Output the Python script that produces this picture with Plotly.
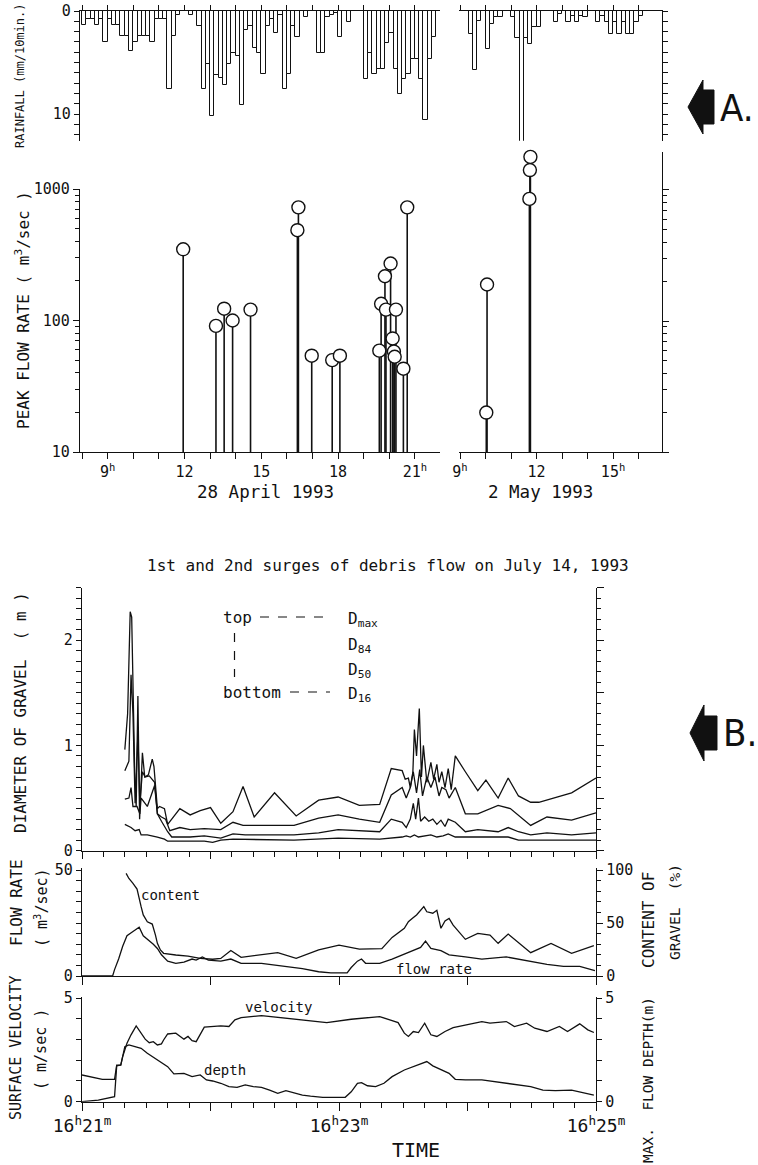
import plotly.graph_objects as go

W, H = 758, 1165
def px(x): return x / W
def py(y): return 1 - y / H

FONT = "DejaVu Sans Mono, Liberation Mono, monospace"
BIG = "Liberation Sans Narrow, DejaVu Sans Condensed, Liberation Sans, sans-serif"
INK = "#111111"

# ---------------- A: rainfall (mm / 10 min) ----------------
rain_left_start = 8.0     # 28 April 1993, first bar starts 8:00
rain_left = [1.4, 0.8, 0.8, 1.4, 0.8, 3.0, 0.8, 1.4, 1.4, 2.4,
             2.4, 3.9, 3.0, 2.4, 2.4, 2.4, 3.0, 0.8, 0.8, 0.8,
             7.6, 2.4, 0.4, 0, 0, 0.4, 0, 1.5, 7.6, 5.1,
             10.2, 6.2, 6.5, 7.2, 5.1, 4.1, 4.4, 9.1, 1.8, 1.5,
             3.6, 4.1, 6.1, 1.5, 0.8, 2.1, 0.4, 7.6, 6.1, 1.5,
             2.5, 0, 0.6, 0, 0, 4.1, 4.1, 0.6, 0.4, 0.2,
             2.5, 0, 1.1, 0, 0, 0, 6.6, 4.1, 6.1, 5.6,
             5.6, 3.1, 2.1, 5.6, 8.1, 6.6, 6.1, 4.7, 4.7, 6.6,
             10.6, 4.7, 2.5]
rain_right_start = 9.0    # 2 May 1993
rain_right = [0, 0, 2.2, 5.7, 1.0, 0, 3.7, 1.3, 0.6, 0.6,
              0, 0, 0.6, 2.6, 12.8, 2.6, 3.2, 1.6, 1.6, 0,
              0, 0, 1.1, 0.3, 0, 1.1, 0.5, 1.1, 0.5, 0.6,
              0, 0, 1.1, 0.5, 1.1, 2.2, 1.1, 2.2, 1.1, 2.2,
              2.2, 1.1, 0.5]
bar_hours = 1 / 6

# ---------------- A: peak flow rate (m3/s) ----------------
peak_left_t = [11.95, 13.23, 13.55, 13.88, 14.58, 16.41, 16.45, 16.97, 17.77, 18.07,
               19.61, 19.68, 19.83, 19.87, 20.05, 20.13, 20.18, 20.21, 20.26, 20.55, 20.70]
peak_left_q = [348, 91, 123, 100, 121, 486, 725, 54, 50, 54,
               59, 134, 217, 121, 271, 73, 58, 53, 121, 43, 725]
peak_right_t = [10.03, 10.06, 11.72, 11.74, 11.76]
peak_right_q = [20, 190, 855, 1420, 1790]

left_hour_ticks = [9, 12, 15, 18, 21]
left_hour_text = ["9<sup>h</sup>", "12", "15", "18", "21<sup>h</sup>"]
right_hour_ticks = [9, 12, 15]
right_hour_text = ["9<sup>h</sup>", "12", "15<sup>h</sup>"]

# ---------------- B: debris flow July 14, 1993 (seconds after 16h21m) ----------------
dmax_t = [20.0, 21.3, 22.5, 23.2, 24.6, 25.3, 26.1, 26.9, 28.2, 29.3, 31.0, 32.8, 33.6, 35.2, 36.2,
          38.5, 40.0, 45.7, 50.5, 55.2, 60.0, 64.8, 70.5, 75.2, 80.4, 89.9, 100.0, 110.5, 119.6,
          129.5, 139.0, 144.4, 149.5, 150.9, 152.4, 153.3, 154.5, 155.2, 156.2, 157.5, 158.5, 159.4,
          161.0, 162.9, 164.2, 165.7, 166.7, 168.0, 169.5, 171.0, 172.4, 174.3, 179.0, 184.8, 188.6,
          194.3, 199.0, 203.8, 209.5, 213.3, 228.6, 240.0]
dmax_v = [0.96, 1.3, 2.27, 2.22, 0.75, 0.42, 1.47, 0.3, 0.93, 0.7, 0.72, 0.87, 0.8, 0.4, 0.42,
          0.4, 0.25, 0.4, 0.34, 0.38, 0.41, 0.26, 0.37, 0.61, 0.32, 0.55, 0.33, 0.48, 0.51,
          0.43, 0.44, 0.78, 0.76, 0.68, 0.69, 0.6, 0.75, 1.15, 0.9, 1.35, 0.7, 1.0,
          0.65, 0.84, 0.68, 0.82, 0.65, 0.75, 0.6, 0.78, 0.58, 0.9, 0.75, 0.57, 0.67,
          0.5, 0.69, 0.52, 0.46, 0.46, 0.55, 0.69]
d84_t = [20.0, 21.9, 22.9, 23.8, 24.8, 26.1, 27.0, 28.2, 29.5, 31.4, 33.9, 35.2, 37.1, 39.0, 41.0,
         45.7, 50.5, 57.1, 64.8, 70.5, 75.2, 81.9, 99.0, 110.5, 119.6, 129.5, 139.0, 144.4, 149.5,
         151.4, 153.3, 154.7, 156.2, 157.7, 159.0, 161.0, 162.9, 164.8, 166.7, 168.0, 169.9, 171.4,
         174.3, 179.0, 184.8, 194.3, 200.0, 209.5, 217.1, 228.6, 240.0]
d84_v = [0.76, 0.85, 1.67, 1.3, 0.45, 1.1, 0.45, 0.75, 0.7, 0.71, 0.65, 0.35, 0.32, 0.3, 0.19,
         0.22, 0.2, 0.21, 0.2, 0.27, 0.24, 0.24, 0.24, 0.31, 0.34, 0.3, 0.27, 0.53, 0.6,
         0.5, 0.6, 0.75, 0.55, 0.77, 0.52, 0.7, 0.6, 0.7, 0.52, 0.6, 0.58, 0.5,
         0.6, 0.35, 0.35, 0.43, 0.4, 0.24, 0.32, 0.29, 0.36]
d50_t = [20.0, 21.9, 22.9, 23.8, 25.7, 27.0, 27.6, 30.5, 33.9, 35.2, 37.1, 40.0, 41.9, 50.5, 57.1,
         64.8, 70.5, 76.2, 99.0, 110.5, 119.6, 129.5, 139.0, 144.4, 149.5, 151.4, 153.3, 154.7,
         155.8, 157.1, 158.1, 160.0, 161.9, 163.8, 165.7, 167.6, 169.5, 171.0, 174.3, 179.0, 184.8,
         194.3, 199.0, 203.8, 209.5, 217.1, 228.6, 240.0]
d50_v = [0.49, 0.5, 0.6, 0.42, 0.42, 0.35, 0.5, 0.42, 0.62, 0.35, 0.28, 0.18, 0.13, 0.13, 0.14,
         0.12, 0.16, 0.15, 0.15, 0.17, 0.2, 0.19, 0.18, 0.3, 0.27, 0.22, 0.3, 0.45,
         0.3, 0.5, 0.28, 0.32, 0.28, 0.3, 0.25, 0.29, 0.23, 0.3, 0.27, 0.18, 0.2,
         0.18, 0.22, 0.18, 0.15, 0.17, 0.15, 0.17]
d16_t = [20.0, 22.9, 24.8, 26.7, 27.6, 30.5, 35.2, 38.5, 40.0, 45.7, 57.1, 61.0, 64.8, 70.5, 99.0,
         119.6, 139.0, 149.5, 151.4, 153.3, 155.2, 157.1, 160.0, 162.9, 165.7, 168.6, 171.0, 174.3,
         184.8, 199.0, 203.8, 209.5, 240.0]
d16_v = [0.25, 0.22, 0.19, 0.2, 0.15, 0.15, 0.13, 0.11, 0.09, 0.09, 0.09, 0.08, 0.1, 0.11, 0.1,
         0.12, 0.11, 0.13, 0.14, 0.13, 0.15, 0.13, 0.14, 0.15, 0.13, 0.14, 0.16, 0.13,
         0.13, 0.13, 0.1, 0.1, 0.1]

flow_t = [0, 14.3, 15.2, 17.1, 19.0, 21.0, 23.8, 26.7, 28.6, 30.5,
          33.3, 35.2, 37.1, 40.0, 43.8, 47.6, 51.4, 53.3, 56.2, 59.0,
          64.8, 69.5, 74.3, 83.8, 87.6, 95.2, 102.9, 110.5, 116.2, 123.8,
          125.7, 128.6, 130.5, 132.4, 139.0, 144.8, 152.4, 158.1, 160.4, 162.9,
          167.6, 171.4, 179.0, 186.7, 198.1, 205.7, 217.1, 224.8, 232.4, 239.5]
flow_q = [0, 0, 3, 8, 14, 19, 21, 23, 19, 17.5,
          15, 13, 10, 7, 6, 6.5, 8, 7.5, 9, 7.5,
          7, 8, 6, 6, 5.5, 4.5, 3.5, 2, 1.5, 1.5,
          4, 7, 8, 6, 6, 8, 11, 13.5, 16.5, 13,
          12, 10, 9, 8, 9, 7.5, 5.5, 4.5, 4.5, 2.5]
content_t = [20.6, 21.9, 23.8, 25.7, 27.6, 28.6, 30.5, 32.8, 34.3, 35.2,
             36.6, 38.1, 43.8, 49.5, 55.2, 61.0, 64.8, 69.5, 74.3, 83.8,
             91.4, 100.0, 110.5, 120.0, 129.5, 140.0, 144.8, 150.5, 152.4, 154.3,
             156.2, 159.6, 161.0, 163.8, 165.7, 167.6, 169.5, 171.4, 173.3, 179.0,
             184.8, 190.5, 194.3, 199.0, 209.5, 219.0, 228.6, 239.0]
content_p = [96.8, 92, 87.4, 82, 65.4, 57.6, 51.2, 49, 38.6, 30.8,
             24.6, 21.4, 19.8, 18.8, 16.6, 15.8, 16.6, 24, 17.6, 19.8,
             22, 16.6, 24.6, 29.2, 25.4, 25.8, 36.4, 45, 51.2, 54.4,
             57.6, 65.4, 60.6, 59.2, 62, 45, 52, 54.4, 48, 34.6,
             40.2, 38.6, 30.8, 39.6, 22, 30.8, 21.4, 28.6]

vel_t = [0, 9.5, 15.2, 16.2, 18.1, 19.0, 21.0, 22.9, 25.3, 27.6, 29.5, 31.4, 33.3, 35.2, 37.1,
         38.1, 40.0, 43.8, 47.6, 49.5, 51.4, 53.3, 55.2, 57.1, 64.8, 68.6, 71.4, 74.3, 83.8,
         95.2, 102.9, 114.3, 125.7, 139.0, 144.8, 147.6, 150.5, 152.4, 154.7, 157.1, 160.0,
         162.9, 165.7, 169.5, 173.3, 179.0, 186.7, 190.5, 198.1, 201.9, 207.6, 211.4, 217.1,
         222.9, 226.7, 232.4, 236.2, 239.0]
vel_v = [1.29, 1.08, 1.08, 1.77, 1.77, 2.18, 2.82, 3.23, 3.66, 3.34, 3.02, 2.85, 2.9, 2.74, 2.79,
         2.98, 3.27, 3.31, 3.02, 3.15, 2.95, 2.9, 3.23, 3.6, 3.66, 3.63, 3.95, 4.06, 4.16,
         4.03, 3.95, 3.82, 3.98, 4.11, 3.92, 3.82, 3.31, 3.15, 3.39, 3.34, 3.79,
         3.23, 3.15, 3.39, 3.58, 3.71, 3.87, 3.79, 3.87, 3.63, 3.79, 3.55, 3.39,
         3.63, 3.39, 3.76, 3.47, 3.34]
depth_t = [0, 7.6, 15.2, 16.2, 18.1, 20.0, 21.9, 24.8, 27.6, 30.5, 33.3, 36.2, 40.0, 42.9, 47.6,
           51.4, 55.2, 58.1, 61.0, 64.8, 68.6, 72.4, 76.2, 80.0, 83.8, 87.6, 91.4, 95.2, 99.0,
           102.9, 106.7, 112.4, 122.9, 125.7, 128.6, 130.5, 133.3, 137.1, 141.0, 144.8, 150.5,
           154.3, 158.1, 161.0, 163.8, 167.6, 171.4, 174.3, 179.0, 186.7, 190.5, 200.0, 209.5,
           215.2, 221.0, 228.6, 234.3, 239.0]
depth_v = [0, 0.08, 0.24, 1.73, 1.77, 2.66, 2.74, 2.66, 2.58, 2.34, 2.15, 1.94, 1.69, 1.34, 1.37,
           1.21, 1.29, 1.05, 1.0, 0.89, 0.73, 0.69, 0.81, 0.73, 0.69, 0.56, 0.4, 0.53, 0.44,
           0.32, 0.27, 0.21, 0.21, 0.48, 0.89, 0.92, 0.77, 0.73, 0.89, 1.21, 1.53,
           1.69, 1.85, 1.94, 1.73, 1.53, 1.37, 1.08, 1.05, 1.05, 1.0, 0.89, 0.73,
           0.56, 0.53, 0.56, 0.44, 0.32]

time_ticks = [0, 60, 120, 180, 240]
time_text = ["16<sup>h</sup>21<sup>m</sup>", "", "16<sup>h</sup>23<sup>m</sup>", "",
             "16<sup>h</sup>25<sup>m</sup>"]

# ====================================================================
fig = go.Figure()

def bar_centers(start, vals):
    return [start + (i + 0.5) * bar_hours for i in range(len(vals))]

fig.add_trace(go.Bar(x=bar_centers(rain_left_start, rain_left), y=rain_left, width=bar_hours,
                     marker=dict(color="white", line=dict(color=INK, width=1)),
                     xaxis="x", yaxis="y", showlegend=False, hoverinfo="skip"))
fig.add_trace(go.Bar(x=bar_centers(rain_right_start, rain_right), y=rain_right, width=bar_hours,
                     marker=dict(color="white", line=dict(color=INK, width=1)),
                     xaxis="x2", yaxis="y2", showlegend=False, hoverinfo="skip"))

def stems(ts, qs, base=10):
    xs, ys = [], []
    for t, q in zip(ts, qs):
        xs += [t, t, None]
        ys += [base, q, None]
    return xs, ys

for ts, qs, xa, ya in [(peak_left_t, peak_left_q, "x3", "y3"),
                       (peak_right_t, peak_right_q, "x4", "y4")]:
    sx, sy = stems(ts, qs)
    fig.add_trace(go.Scatter(x=sx, y=sy, mode="lines", line=dict(color=INK, width=1.6),
                             xaxis=xa, yaxis=ya, showlegend=False, hoverinfo="skip",
                             cliponaxis=False))
    fig.add_trace(go.Scatter(x=ts, y=qs, mode="markers",
                             marker=dict(symbol="circle", size=13, color="white",
                                         line=dict(color=INK, width=1.4)),
                             xaxis=xa, yaxis=ya, showlegend=False, hoverinfo="skip",
                             cliponaxis=False))

line_style = dict(color=INK, width=1.3)
for t, v in [(dmax_t, dmax_v), (d84_t, d84_v), (d50_t, d50_v), (d16_t, d16_v)]:
    fig.add_trace(go.Scatter(x=t, y=v, mode="lines", line=line_style, xaxis="x5", yaxis="y5",
                             showlegend=False, hoverinfo="skip"))
fig.add_trace(go.Scatter(x=[None], y=[None], xaxis="x5", yaxis="y6", showlegend=False,
                         hoverinfo="skip"))
fig.add_trace(go.Scatter(x=flow_t, y=flow_q, mode="lines", line=line_style, xaxis="x6",
                         yaxis="y7", showlegend=False, hoverinfo="skip"))
fig.add_trace(go.Scatter(x=content_t, y=content_p, mode="lines", line=line_style, xaxis="x6",
                         yaxis="y8", showlegend=False, hoverinfo="skip", cliponaxis=False))
fig.add_trace(go.Scatter(x=vel_t, y=vel_v, mode="lines", line=line_style, xaxis="x7",
                         yaxis="y9", showlegend=False, hoverinfo="skip"))
fig.add_trace(go.Scatter(x=depth_t, y=depth_v, mode="lines", line=line_style, xaxis="x7",
                         yaxis="y10", showlegend=False, hoverinfo="skip"))

# ---------------- axes ----------------
base = dict(showgrid=False, zeroline=False, showline=True, linecolor=INK, linewidth=1.3,
            tickcolor=INK, tickwidth=1.2, automargin=False,
            tickfont=dict(family=FONT, size=15, color=INK))

def log_minor(decades):
    vals = []
    for d in decades:
        vals += [k * d for k in range(2, 10)]
    return vals

L_RANGE = [7.92, 21.98]
R_RANGE = [8.96, 16.92]
RAIN_DOM = [py(140.8), py(11)]

fig.update_layout(
    width=W, height=H, margin=dict(l=0, r=0, t=0, b=0, pad=0, autoexpand=False),
    paper_bgcolor="white", plot_bgcolor="rgba(0,0,0,0)",
    font=dict(family=FONT, color=INK, size=15),
    bargap=0,
    xaxis=dict(base, domain=[px(80), px(440)], range=L_RANGE, anchor="y", side="top",
               ticks="outside", ticklen=5, tickvals=list(range(8, 22)), showticklabels=False),
    yaxis=dict(base, domain=RAIN_DOM, range=[12.6, 0], anchor="x", ticks="outside", ticklen=5,
               tickvals=[0, 10], minor=dict(dtick=1, ticks="outside", ticklen=5, tickcolor=INK)),
    xaxis2=dict(base, domain=[px(459), px(662)], range=R_RANGE, anchor="y2", side="top",
                ticks="outside", ticklen=5, tickvals=list(range(9, 17)), showticklabels=False),
    yaxis2=dict(base, domain=RAIN_DOM, range=[12.6, 0], anchor="x2", side="right",
                ticks="outside", ticklen=5, dtick=1, showticklabels=False),
    xaxis3=dict(base, domain=[px(80), px(440)], range=L_RANGE, anchor="y3", ticks="outside",
                ticklen=6, tickvals=left_hour_ticks, ticktext=left_hour_text,
                minor=dict(tickvals=list(range(8, 23)), ticks="outside", ticklen=6, tickcolor=INK)),
    yaxis3=dict(base, type="log", domain=[py(452), py(189)], range=[1, 3], anchor="x3",
                ticks="outside", ticklen=6, tickvals=[10, 100, 1000], ticktext=["10", "100", "1000"],
                minor=dict(tickvals=log_minor([10, 100]), ticks="outside", ticklen=4, tickcolor=INK)),
    xaxis4=dict(base, domain=[px(459), px(662)], range=R_RANGE, anchor="y4", ticks="outside",
                ticklen=6, tickvals=right_hour_ticks, ticktext=right_hour_text,
                minor=dict(tickvals=list(range(9, 18)), ticks="outside", ticklen=6, tickcolor=INK)),
    yaxis4=dict(base, type="log", domain=[py(452), py(152)], range=[1, 3.29], anchor="x4",
                side="right", ticks="outside", ticklen=6, tickvals=[10, 100, 1000],
                showticklabels=False,
                minor=dict(tickvals=log_minor([10, 100, 1000]), ticks="outside", ticklen=4,
                           tickcolor=INK)),
    xaxis5=dict(base, domain=[px(82), px(596)], range=[0, 240], anchor="y5", ticks="outside",
                ticklen=7, tickvals=time_ticks, showticklabels=False,
                minor=dict(dtick=10, ticks="outside", ticklen=5, tickcolor=INK)),
    yaxis5=dict(base, domain=[py(850.7), py(587.5)], range=[0, 2.5], anchor="x5",
                ticks="outside", ticklen=5, tickvals=[0, 1, 2],
                minor=dict(dtick=0.1, ticks="outside", ticklen=5, tickcolor=INK)),
    yaxis6=dict(base, range=[0, 2.5], overlaying="y5", anchor="x5", side="right",
                ticks="outside", ticklen=7, tickvals=[0, 0.5, 1, 1.5, 2, 2.5], showticklabels=False,
                minor=dict(dtick=0.1, ticks="outside", ticklen=4, tickcolor=INK)),
    xaxis6=dict(base, domain=[px(82), px(596)], range=[0, 240], anchor="y7", ticks="outside",
                ticklen=8, tickvals=time_ticks, showticklabels=False),
    yaxis7=dict(base, domain=[py(976), py(868.3)], range=[0, 50.8], anchor="x6",
                ticks="outside", ticklen=5, tickvals=[0, 50],
                minor=dict(dtick=5, ticks="outside", ticklen=5, tickcolor=INK)),
    yaxis8=dict(base, range=[0, 101.6], overlaying="y7", anchor="x6", side="right",
                ticks="outside", ticklen=6, tickvals=[0, 50, 100],
                minor=dict(dtick=10, ticks="outside", ticklen=4, tickcolor=INK)),
    xaxis7=dict(base, domain=[px(82), px(596)], range=[0, 240], anchor="y9", ticks="outside",
                ticklen=8, tickvals=time_ticks, ticktext=time_text,
                tickfont=dict(family=FONT, size=18, color=INK),
                minor=dict(dtick=10, ticks="outside", ticklen=5, tickcolor=INK)),
    yaxis9=dict(base, domain=[py(1101.7), py(996.7)], range=[0, 5.07], anchor="x7",
                ticks="outside", ticklen=5, tickvals=[0, 5],
                minor=dict(dtick=1, ticks="outside", ticklen=5, tickcolor=INK)),
    yaxis10=dict(base, range=[0, 5.07], overlaying="y9", anchor="x7", side="right",
                 ticks="outside", ticklen=5, tickvals=[0, 5],
                 minor=dict(dtick=1, ticks="outside", ticklen=5, tickcolor=INK)),
)

# ---------------- text ----------------
def note(text, x, y, size=15, angle=0, xanchor="center", yanchor="middle", family=FONT):
    fig.add_annotation(text=text, x=px(x), y=py(y), xref="paper", yref="paper",
                       showarrow=False, textangle=angle, xanchor=xanchor, yanchor=yanchor,
                       font=dict(family=family, size=size, color=INK))

note("RAINFALL (mm/10min.)", 20, 76, 12, -90)
note("PEAK FLOW RATE ( m<sup>3</sup>/sec )", 22, 310, 16, -90)
note("28 April 1993", 265, 492, 17.5)
note("2 May 1993", 540, 492, 17.5)
note("A.", 737, 108, 38, family=BIG)
note("B.", 740, 733, 38, family=BIG)

note("1st and 2nd surges of debris flow on July 14, 1993", 388, 565, 16)
note("top", 221, 617, 16, xanchor="left")
note("bottom", 221, 692, 16, xanchor="left")
note("D<sub>max</sub>", 346, 619, 16, xanchor="left")
note("D<sub>84</sub>", 346, 645, 16, xanchor="left")
note("D<sub>50</sub>", 346, 670, 16, xanchor="left")
note("D<sub>16</sub>", 346, 694, 16, xanchor="left")
note("content", 170, 895, 14)
note("flow rate", 434, 969, 14)
note("velocity", 278, 1007, 14)
note("depth", 225, 1070, 14)
note("DIAMETER OF GRAVEL  ( m )", 20, 713, 16, -90)
note("FLOW RATE", 16, 903, 16, -90)
note("( m<sup>3</sup>/sec)", 41, 908, 15, -90)
note("SURFACE VELOCITY", 16, 1048, 15, -90)
note("( m/sec )", 41, 1050, 15, -90)
note("CONTENT OF", 648, 920, 16, -90)
note("GRAVEL  (%)", 675, 912, 14.5, -90)
note("MAX.  FLOW DEPTH(m)", 648, 1080, 14.5, -90)
note("TIME", 416, 1150, 20)

# legend connectors (dashed)
for x0, x1, y0, y1 in [(234.5, 234.5, 633, 677), (260, 330, 617, 617), (290, 330, 692, 692)]:
    fig.add_shape(type="line", xref="paper", yref="paper", x0=px(x0), x1=px(x1),
                  y0=py(y0), y1=py(y1), line=dict(color=INK, width=1.2, dash="dash"))

# block arrows
def arrow_path(tip_x, tip_y, head_x, head_half, body_x, body_half):
    pts = [(tip_x, tip_y), (head_x, tip_y - head_half), (head_x, tip_y - body_half),
           (body_x, tip_y - body_half), (body_x, tip_y + body_half), (head_x, tip_y + body_half),
           (head_x, tip_y + head_half)]
    return "M " + " L ".join(f"{px(a):.5f},{py(b):.5f}" for a, b in pts) + " Z"

fig.add_shape(type="path", xref="paper", yref="paper",
              path=arrow_path(688, 107, 703, 27, 714, 17), fillcolor=INK, line=dict(color=INK, width=1))
fig.add_shape(type="path", xref="paper", yref="paper",
              path=arrow_path(690, 733, 704, 28, 717, 17), fillcolor=INK, line=dict(color=INK, width=1))

# the page's default 8px body margin would offset the fixed-size figure
fig.write_html("out.html", config={"displayModeBar": False},
               post_script="document.body.style.margin='0px';")
